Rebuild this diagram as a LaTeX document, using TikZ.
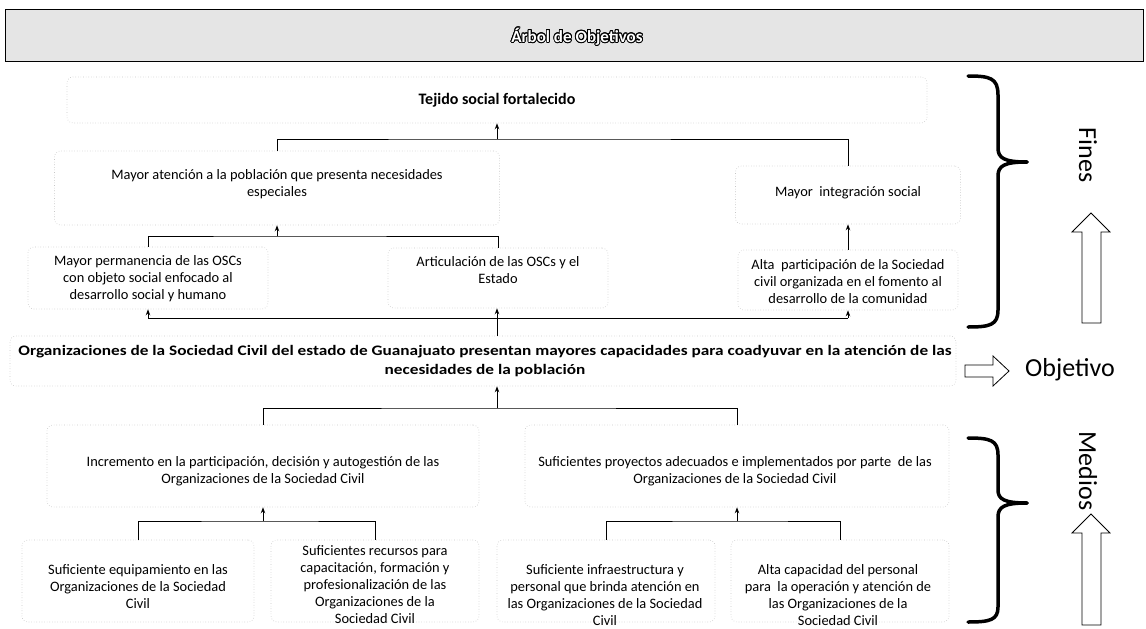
\documentclass[tikz,border=0pt]{standalone}
\usepackage{fontspec}
\setmainfont{Carlito}
\newfontfamily\widebold[FakeStretch=1.19]{Carlito}
\usepackage[copies]{contour}
\contourlength{0.9pt}
\usetikzlibrary{arrows.meta}
\tikzset{
  box/.style={draw=gray!45, dotted, rounded corners=6pt, line width=0.6pt, inner sep=0pt},
  txt/.style={align=center, inner sep=0pt, font=\fontsize{14.4}{17}\selectfont},
  conn/.style={line width=1pt, black},
  arr/.style={line width=1pt, black, -{Stealth[length=6pt,width=4.5pt]}},
  brace/.style={line width=3.5pt, black, line cap=round},
  hollow/.style={draw=black, fill=white, line width=0.8pt, line join=miter},
  side/.style={font=\fontsize{26}{28}\selectfont}
}
\begin{document}
\begin{tikzpicture}[x=1pt,y=-1pt]
\useasboundingbox (0,0) rectangle (1146,629);
% title bar
\node[draw=black, line width=0.8pt, fill=gray!20, minimum width=1138pt, minimum height=52pt, inner sep=0pt] (bar) at (574,35) {};
\node[font=\fontsize{17}{19}\selectfont\bfseries, text=white] (title) at (577,37) {\contour{black}{Árbol de Objetivos}};

% boxes
\node[box, minimum width=860pt, minimum height=46pt] (tej) at (497,100) {};
\node[box, minimum width=445pt, minimum height=74pt] (ma) at (277,188) {};
\node[box, minimum width=225pt, minimum height=58pt] (mi) at (848,195) {};
\node[box, minimum width=240pt, minimum height=62pt] (mp) at (148,278) {};
\node[box, minimum width=220pt, minimum height=60pt] (art) at (498,278) {};
\node[box, minimum width=220pt, minimum height=60pt] (ap) at (848,280) {};
\node[box, minimum width=946pt, minimum height=50pt] (obj) at (483,361) {};
\node[box, minimum width=432pt, minimum height=82pt] (inc) at (263,466) {};
\node[box, minimum width=424pt, minimum height=82pt] (proy) at (737,466) {};
\node[box, minimum width=232pt, minimum height=82pt] (eq) at (138,581) {};
\node[box, minimum width=208pt, minimum height=82pt] (rec) at (375,581) {};
\node[box, minimum width=218pt, minimum height=82pt] (inf) at (606,581) {};
\node[box, minimum width=218pt, minimum height=82pt] (cap) at (840,581) {};

% texts
\node[txt, font=\fontsize{16}{18}\selectfont\bfseries] (tejt) at (497,100) {Tejido social fortalecido};
\node[txt] (mat) at (277,184) {Mayor atención a la población que presenta necesidades\\especiales};
\node[txt] (mit) at (848,193) {Mayor\ \ integración social};
\node[txt] (mpt) at (148,279) {Mayor permanencia de las OSCs\\con objeto social enfocado al\\desarrollo social y humano};
\node[txt] (artt) at (498,270) {Articulación de las OSCs y el\\Estado};
\node[txt] (apt) at (848,282) {Alta\ \ participación de la Sociedad\\civil organizada en el fomento al\\desarrollo de la comunidad};
\node[txt, font=\fontsize{14.5}{19}\widebold\bfseries] (objt) at (485,361) {Organizaciones de la Sociedad Civil del estado de Guanajuato presentan mayores capacidades para coadyuvar en la atención de las\\necesidades de la población};
\node[txt] (inct) at (263,471) {Incremento en la participación, decisión y autogestión de las\\Organizaciones de la Sociedad Civil};
\node[txt] (proyt) at (735,471) {Suficientes proyectos adecuados e implementados por parte\ \ de las\\Organizaciones de la Sociedad Civil};
\node[txt] (eqt) at (138,587) {Suficiente equipamiento en las\\Organizaciones de la Sociedad\\Civil};
\node[txt] (rect) at (375,585) {Suficientes recursos para\\capacitación, formación y\\profesionalización de las\\Organizaciones de la\\Sociedad Civil};
\node[txt] (inft) at (605,595) {Suficiente infraestructura y\\personal que brinda atención en\\las Organizaciones de la Sociedad\\Civil};
\node[txt] (capt) at (838,595) {Alta capacidad del personal\\para\ \ la operación y atención de\\las Organizaciones de la\\Sociedad Civil};

% connectors: fines
\coordinate (j1) at (497,139);
\draw[conn] (ma.north) |- (j1) -| (mi.north);
\draw[arr] (j1) -- (tej.south -| j1);
\coordinate (j2) at (277,236);
\draw[conn] (mp.north) |- (j2) -| (art.north);
\draw[arr] (j2) -- (ma.south);
\draw[arr] (ap.north) -- (mi.south);
\coordinate (j3) at (497,318);
\draw[conn] (obj.north -| j3) -- (j3);
\draw[conn] (148,318) -- (848,318);
\draw[arr] (148,318) -- (mp.south);
\draw[arr] (j3) -- (art.south -| j3);
\draw[arr] (848,318) -- (ap.south);
% medios
\coordinate (j4) at (497,408);
\draw[conn] (inc.north) |- (j4) -| (proy.north);
\draw[arr] (j4) -- (obj.south -| j4);
\coordinate (j5) at (263,521);
\draw[conn] (eq.north) |- (j5) -| (rec.north);
\draw[arr] (j5) -- (inc.south -| j5);
\coordinate (j6) at (737,521);
\draw[conn] (inf.north) |- (j6) -| (cap.north);
\draw[arr] (j6) -- (proy.south -| j6);

% braces
\draw[brace] (968,76) .. controls (990,76) and (998,78) .. (998,95) -- (998,148) .. controls (998,158) and (1004,162) .. (1027,162);
\draw[brace] (1027,162) .. controls (1004,162) and (998,166) .. (998,176) -- (998,310) .. controls (998,325) and (990,327) .. (968,327);
\draw[brace] (968,438) .. controls (990,438) and (998,440) .. (998,455) -- (998,490) .. controls (998,499) and (1004,503) .. (1027,503);
\draw[brace] (1027,503) .. controls (1004,503) and (998,507) .. (998,517) -- (998,607) .. controls (998,620) and (990,622) .. (968,622);

% side labels
\node[side, rotate=-90] (fines) at (1088,155) {Fines};
\node[side] (objl) at (1070,370) {Objetivo};
\node[side, rotate=-90] (medios) at (1088,471) {Medios};

% hollow arrows
\draw[hollow] (1082,323) -- (1082,232) -- (1072,232) -- (1091,213) -- (1110,232) -- (1101,232) -- (1101,323) -- cycle;
\draw[hollow] (1082,625) -- (1082,533) -- (1072,533) -- (1091,514) -- (1110,533) -- (1101,533) -- (1101,625) -- cycle;
\draw[hollow] (965,365) -- (993,365) -- (993,356) -- (1009,371) -- (993,386) -- (993,377) -- (965,377) -- cycle;
\end{tikzpicture}
\end{document}
